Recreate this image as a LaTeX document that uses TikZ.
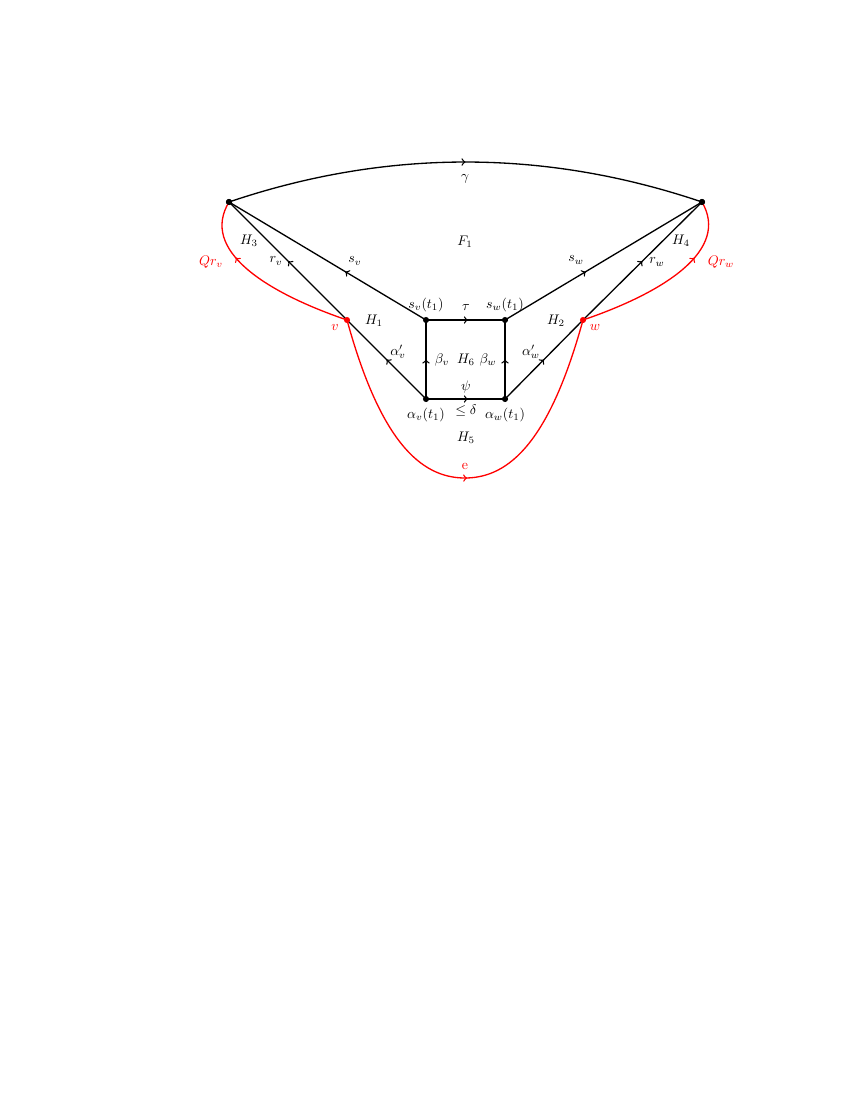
\documentclass[tikz,border=0pt]{standalone}
\usetikzlibrary{decorations.markings}
\begin{document}
\begin{tikzpicture}[x=0.72pt,y=-0.72pt,
  edge/.style={line width=0.95pt},
  redge/.style={line width=0.95pt,red},
  midarrow/.style={postaction={decorate},decoration={markings,mark=at position #1 with {\arrow{>}}}},
  dot/.style={circle,fill=black,inner sep=0pt,minimum size=4.4pt},
  rdot/.style={circle,fill=red,inner sep=0pt,minimum size=4.4pt},
  lab/.style={inner sep=1pt},
  rlab/.style={inner sep=1pt,text=red}]
\useasboundingbox (0,0) rectangle (850,1100);
% vertices
\node[dot] (A) at (229,202) {};
\node[dot] (B) at (702,202) {};
\node[dot] (sv) at (426,320) {};
\node[dot] (sw) at (505,320) {};
\node[dot] (av) at (426,399) {};
\node[dot] (aw) at (505,399) {};
\coordinate (vv) at (347,320);
\coordinate (ww) at (583,320);
% black edges
\draw[edge,midarrow=0.5] (A.center) .. controls (386.3,148.7) and (544.7,148.7) .. (B.center);
\draw[edge,midarrow=0.41] (sv.center) -- (A.center);
\draw[edge,midarrow=0.41] (sw.center) -- (B.center);
\draw[edge,midarrow=0.5] (av.center) -- (vv);
\draw[edge,midarrow=0.5] (vv) -- (A.center);
\draw[edge,midarrow=0.5] (aw.center) -- (ww);
\draw[edge,midarrow=0.5] (ww) -- (B.center);
\draw[edge,midarrow=0.53] (sv.center) -- (sw.center);
\draw[edge,midarrow=0.53] (av.center) -- (aw.center);
\draw[edge,midarrow=0.5] (av.center) -- (sv.center);
\draw[edge,midarrow=0.5] (aw.center) -- (sw.center);
% red edges
\draw[redge,midarrow=0.68] (vv) .. controls (265,292) and (200,250) .. (A.center);
\draw[redge,midarrow=0.68] (ww) .. controls (665,292) and (730,250) .. (B.center);
\draw[redge,midarrow=0.505] (vv) .. controls (380,440) and (420,478) .. (465,478)
      .. controls (510,478) and (550,440) .. (ww);
\node[rdot] (v) at (vv) {};
\node[rdot] (w) at (ww) {};
\node[dot] at (A) {};
\node[dot] at (B) {};
% labels
\node[lab] (lgamma) at (465,179) {$\gamma$};
\node[lab] (lF) at (465,242) {$F_1$};
\node[lab] (lH3) at (249,241) {$H_3$};
\node[lab] (lH4) at (681,241) {$H_4$};
\node[lab] (lsv) at (355,261) {$s_v$};
\node[lab] (lsw) at (576,260) {$s_w$};
\node[lab] (lrv) at (276,261) {$r_v$};
\node[lab] (lrw) at (657,262) {$r_w$};
\node[rlab] (lQv) at (211,262) {$Qr_v$};
\node[rlab] (lQw) at (721,262) {$Qr_w$};
\node[lab] (lsvt) at (426,305) {$s_v(t_1)$};
\node[lab] (lswt) at (505,305) {$s_w(t_1)$};
\node[lab] (ltau) at (466,308) {$\tau$};
\node[lab] (lH1) at (374,321) {$H_1$};
\node[lab] (lH2) at (556,321) {$H_2$};
\node[rlab] (lv) at (335,328) {$v$};
\node[rlab] (lw) at (595,328) {$w$};
\node[lab] (lav) at (398,352) {$\alpha'_v$};
\node[lab] (law) at (531,352) {$\alpha'_w$};
\node[lab] (lbv) at (442,360) {$\beta_v$};
\node[lab] (lH6) at (466,360) {$H_6$};
\node[lab] (lbw) at (488,360) {$\beta_w$};
\node[lab] (lpsi) at (466,387) {$\psi$};
\node[lab] (ldelta) at (466,411) {$\leq\delta$};
\node[lab] (lavt) at (426,415) {$\alpha_v(t_1)$};
\node[lab] (lawt) at (505,415) {$\alpha_w(t_1)$};
\node[lab] (lH5) at (466,438) {$H_5$};
\node[rlab] (le) at (465,466) {e};
\end{tikzpicture}
\end{document}
